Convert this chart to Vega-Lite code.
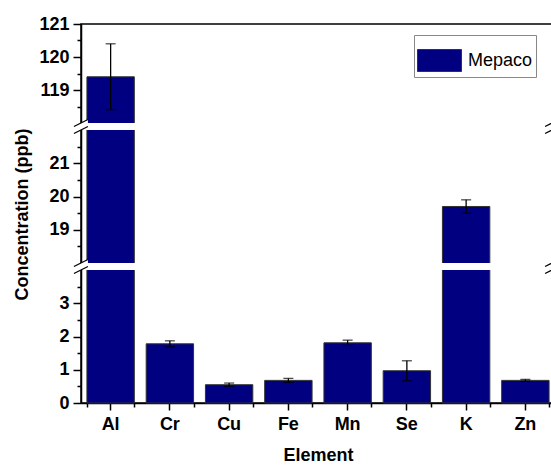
{
  "$schema": "https://vega.github.io/schema/vega-lite/v6.json",
  "autosize": {"type": "none"},
  "padding": {"left": 81, "top": 24, "right": 0, "bottom": 62},
  "width": 474,
  "height": 379,
  "config": {
    "view": {"stroke": "black", "strokeWidth": 1.5},
    "font": "Liberation Sans",
    "axis": {
      "labelFont": "Liberation Sans",
      "labelFontSize": 18,
      "labelFontWeight": "bold",
      "labelColor": "black",
      "titleFont": "Liberation Sans",
      "titleFontSize": 18,
      "titleFontWeight": "bold",
      "titleColor": "black",
      "domainColor": "black",
      "domainWidth": 1.5,
      "tickColor": "black",
      "tickWidth": 1.5,
      "grid": false
    }
  },
  "data": {
    "values": [
      {"element": "Al", "conc": 119.4, "err": 1.0},
      {"element": "Cr", "conc": 1.78, "err": 0.09},
      {"element": "Cu", "conc": 0.55, "err": 0.05},
      {"element": "Fe", "conc": 0.68, "err": 0.06},
      {"element": "Mn", "conc": 1.81, "err": 0.08},
      {"element": "Se", "conc": 0.97, "err": 0.3},
      {"element": "K", "conc": 19.7, "err": 0.2},
      {"element": "Zn", "conc": 0.68, "err": 0.03}
    ]
  },
  "layer": [
    {
      "mark": {"type": "bar", "stroke": "#333333", "strokeWidth": 1},
      "encoding": {
        "x": {
          "field": "element",
          "type": "nominal",
          "scale": {"domain": ["Al", "Cr", "Cu", "Fe", "Mn", "Se", "K", "Zn"], "paddingInner": 0.2, "paddingOuter": 0.1},
          "axis": {"orient": "bottom", "title": "Element", "labelAngle": 0, "tickSize": 7, "labelPadding": 5, "titleY": 43, "titleBaseline": "top"}
        },
        "y": {
          "field": "conc",
          "type": "quantitative",
          "scale": {"domain": [0, 4, 18, 22, 118, 121], "range": [379, 246, 239, 106, 99, 0], "nice": false, "zero": false},
          "axis": {
            "orient": "left",
            "values": [0, 1, 2, 3, 19, 20, 21, 119, 120, 121],
            "title": "Concentration (ppb)",
            "tickSize": 8,
            "labelPadding": 4,
            "titleX": -59,
            "titleY": 190,
            "titleAngle": -90,
            "titleAlign": "center",
            "titleBaseline": "middle"
          }
        },
        "fill": {
          "datum": "Mepaco",
          "type": "nominal",
          "scale": {"range": ["#000080"]},
          "legend": {
            "title": null,
            "orient": "none",
            "legendX": 333,
            "legendY": 11,
            "symbolType": "M-1,-0.5H1V0.5H-1Z",
            "symbolSize": 1936,
            "symbolStrokeColor": "#333333",
            "symbolStrokeWidth": 1,
            "symbolOpacity": 1,
            "labelFont": "Liberation Sans",
            "labelFontSize": 18,
            "labelColor": "black",
            "labelOffset": 6,
            "padding": 3,
            "strokeColor": "#888888",
            "fillColor": "white"
          }
        }
      }
    },
    {
      "mark": {"type": "errorbar", "color": "black", "thickness": 1.3, "ticks": {"size": 10, "color": "black"}},
      "encoding": {
        "x": {"field": "element", "type": "nominal", "axis": null},
        "y": {"field": "conc", "type": "quantitative", "axis": null},
        "yError": {"field": "err"}
      }
    },
    {
      "data": {"values": [{"lo": 4, "hi": 18}, {"lo": 22, "hi": 118}]},
      "mark": {"type": "rect", "fill": "white"},
      "encoding": {
        "y": {
          "field": "lo",
          "type": "quantitative",
          "axis": {"orient": "left", "values": [0.5, 1.5, 2.5, 3.5, 18.5, 19.5, 20.5, 21.5, 118.5, 119.5, 120.5], "labels": false, "domain": false, "tickSize": 4, "title": null}
        },
        "y2": {"field": "hi"}
      }
    },
    {
      "data": {"values": [{"gap": 11}, {"gap": 70}]},
      "mark": {"type": "point", "shape": "M-1,0L1,-1L1,0L-1,1Z", "size": 196, "filled": true, "fill": "white", "opacity": 1, "strokeWidth": 0, "xOffset": -6},
      "encoding": {
        "x": {"datum": "Al", "type": "nominal", "bandPosition": 0,
          "axis": {"orient": "bottom", "tickBand": "extent", "labels": false, "domain": false, "tickSize": 4, "title": null}},
        "y": {"field": "gap", "type": "quantitative", "axis": null}
      }
    },
    {
      "data": {"values": [{"gap": 11}, {"gap": 70}]},
      "mark": {"type": "point", "shape": "M-1,0L1,-1M-1,1L1,0", "size": 196, "filled": false, "stroke": "black", "strokeWidth": 1.3, "opacity": 1, "xOffset": -6},
      "encoding": {
        "x": {"datum": "Al", "type": "nominal", "bandPosition": 0, "axis": null},
        "y": {"field": "gap", "type": "quantitative", "axis": null}
      }
    },
    {
      "data": {"values": [{"gap": 11}, {"gap": 70}]},
      "mark": {"type": "point", "shape": "M-1,0L1,-1L1,0L-1,1Z", "size": 196, "filled": true, "fill": "white", "opacity": 1, "strokeWidth": 0, "xOffset": 3},
      "encoding": {
        "x": {"datum": "Zn", "type": "nominal", "bandPosition": 1, "axis": null},
        "y": {"field": "gap", "type": "quantitative", "axis": null}
      }
    },
    {
      "data": {"values": [{"gap": 11}, {"gap": 70}]},
      "mark": {"type": "point", "shape": "M-1,0L1,-1M-1,1L1,0", "size": 196, "filled": false, "stroke": "black", "strokeWidth": 1.3, "opacity": 1, "xOffset": 3},
      "encoding": {
        "x": {"datum": "Zn", "type": "nominal", "bandPosition": 1, "axis": null},
        "y": {"field": "gap", "type": "quantitative", "axis": null}
      }
    }
  ],
  "resolve": {"axis": {"x": "independent", "y": "independent"}}
}
